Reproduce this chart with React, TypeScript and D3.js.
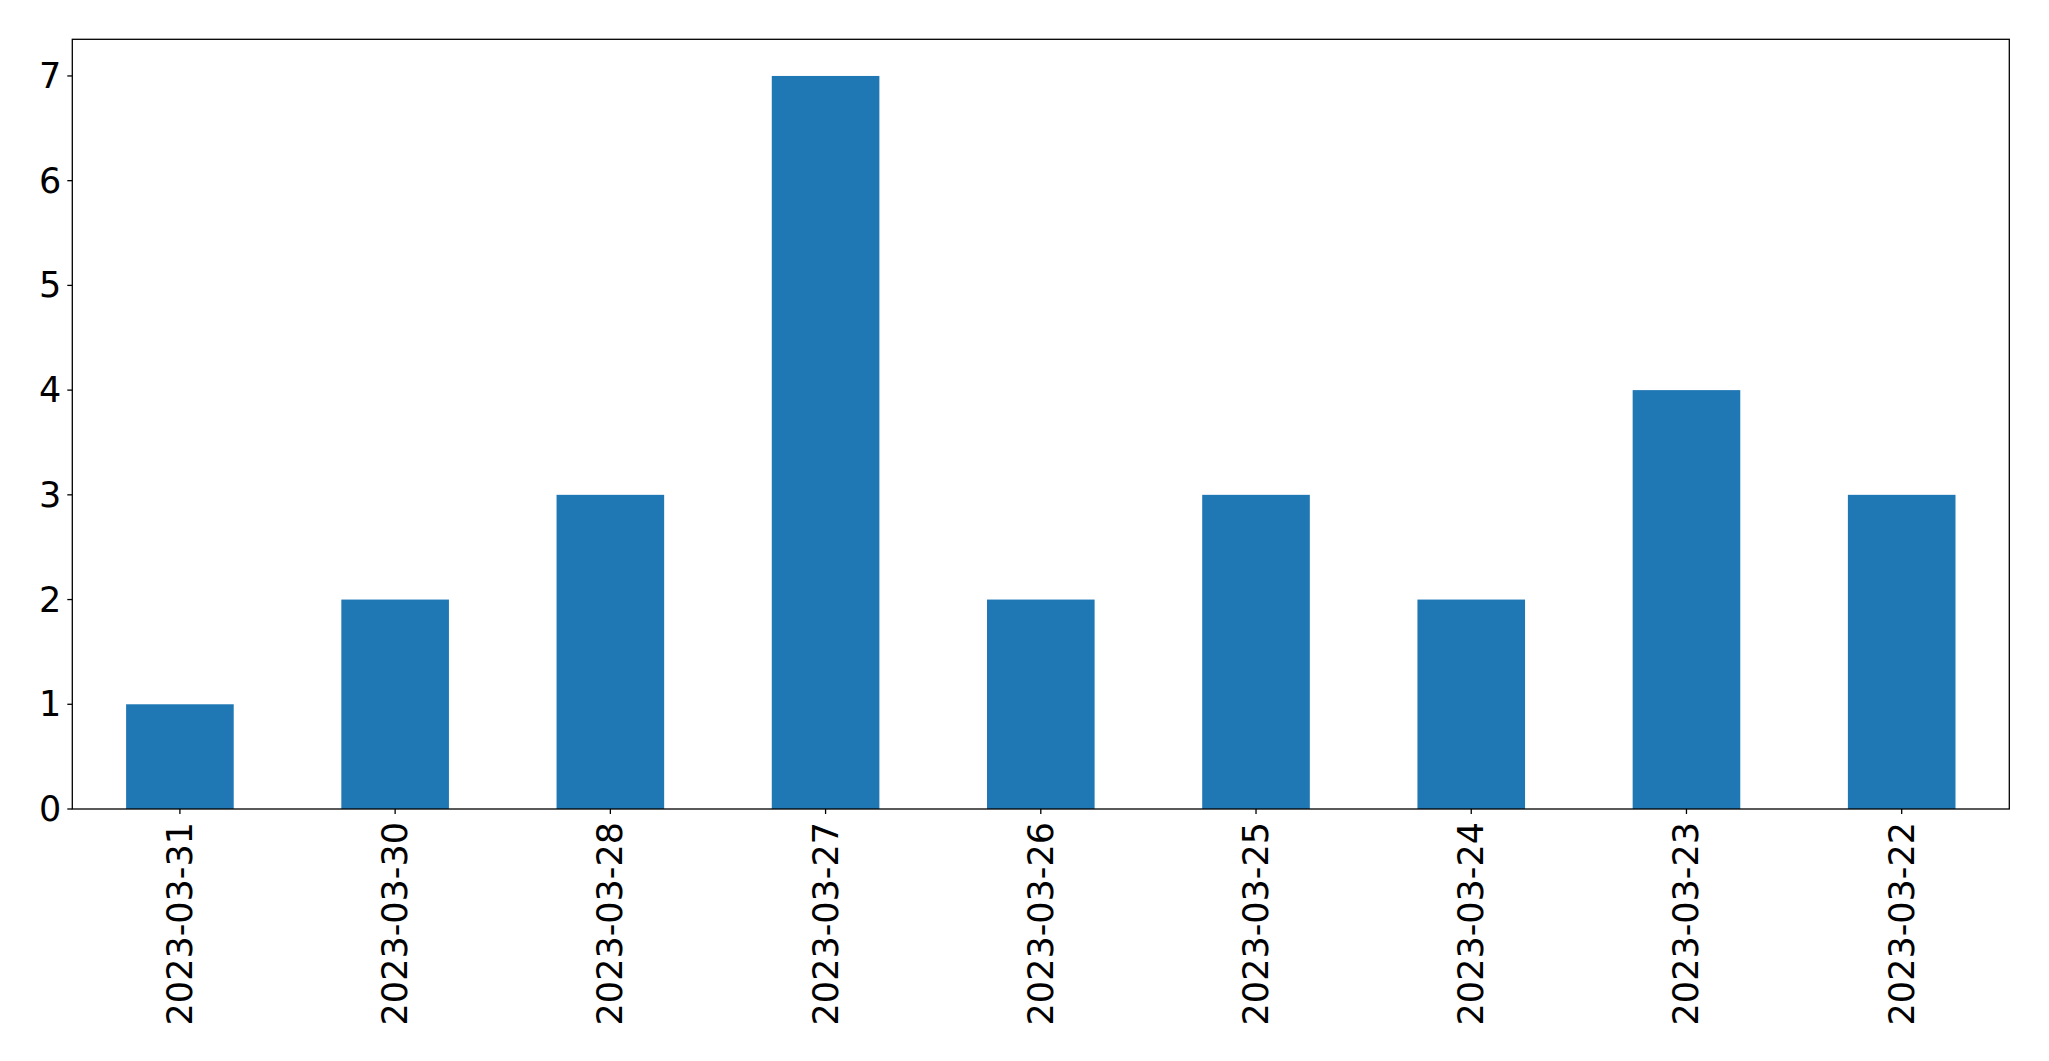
import React from 'react';
import * as d3 from 'd3';

const dates = [
  '2023-03-31', '2023-03-30', '2023-03-28', '2023-03-27', '2023-03-26',
  '2023-03-25', '2023-03-24', '2023-03-23', '2023-03-22',
];
const counts = [1, 2, 3, 7, 2, 3, 2, 4, 3];
const yTicks = [0, 1, 2, 3, 4, 5, 6, 7];

const W = 2049;
const H = 1061;
const left = 72.3;
const right = 2009.3;
const top = 39.3;
const bottom = 809;
const font = 'DejaVu Sans, sans-serif';
const fs = 35;

export default function App() {
  const x = d3.scaleBand<string>()
    .domain(dates)
    .range([left, right])
    .paddingInner(0.5)
    .paddingOuter(0.25);

  const y = d3.scaleLinear()
    .domain([0, 7.35])
    .range([bottom, top]);

  return (
    <svg width={W} height={H} style={{ position: 'absolute', left: 0, top: 0, background: '#fff' }}>
      {dates.map((d, i) => (
        <rect
          key={d}
          x={x(d)}
          y={y(counts[i])}
          width={x.bandwidth()}
          height={y(0) - y(counts[i])}
          fill="#1f77b4"
        />
      ))}

      {/* y axis ticks */}
      {yTicks.map(t => (
        <g key={t}>
          <line x1={left - 5} x2={left} y1={y(t)} y2={y(t)} stroke="#000" strokeWidth={1.3} />
          <text
            x={left - 11}
            y={y(t)}
            textAnchor="end"
            dominantBaseline="central"
            fontFamily={font}
            fontSize={fs}
            fill="#000"
          >
            {t}
          </text>
        </g>
      ))}

      {/* x axis ticks */}
      {dates.map(d => {
        const cx = x(d)! + x.bandwidth() / 2;
        return (
          <g key={d}>
            <line x1={cx} x2={cx} y1={bottom} y2={bottom + 5} stroke="#000" strokeWidth={1.3} />
            <text
              transform={`translate(${cx},${bottom + 13}) rotate(-90)`}
              textAnchor="end"
              dominantBaseline="central"
              fontFamily={font}
              fontSize={fs}
              fill="#000"
            >
              {d}
            </text>
          </g>
        );
      })}

      <rect
        x={left}
        y={top}
        width={right - left}
        height={bottom - top}
        fill="none"
        stroke="#000"
        strokeWidth={1.3}
      />
    </svg>
  );
}
